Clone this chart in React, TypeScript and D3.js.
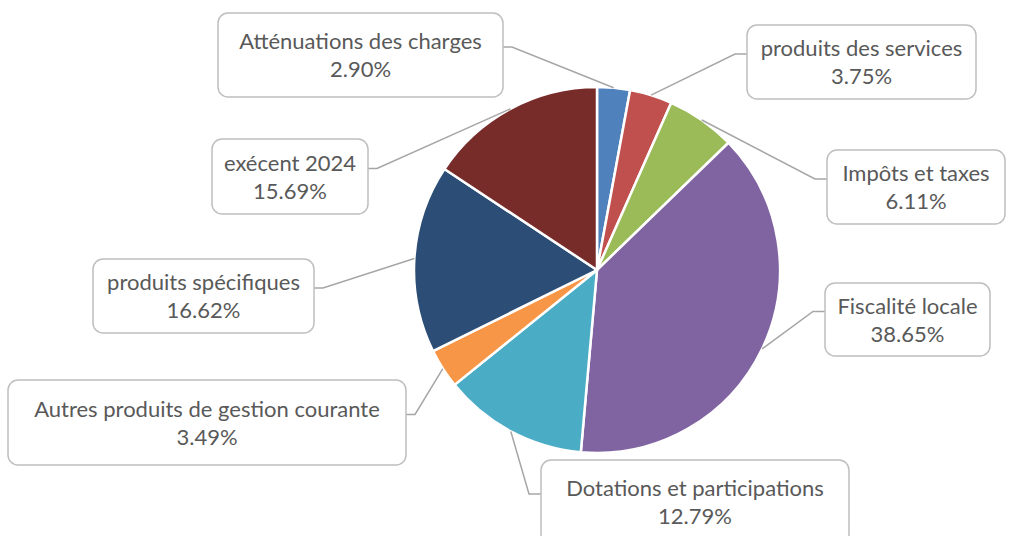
import React from 'react';
import * as d3 from 'd3';

// chart data
const categories = [
  'Atténuations des charges',
  'produits des services',
  'Impôts et taxes',
  'Fiscalité locale',
  'Dotations et participations',
  'Autres produits de gestion courante',
  'produits spécifiques',
  'exécent 2024',
];
const shares = [2.9, 3.75, 6.11, 38.65, 12.79, 3.49, 16.62, 15.69];
const colors = ['#4F81BD', '#C0504D', '#9BBB59', '#8064A2', '#4BACC6', '#F79646', '#2C4D75', '#772C2A'];

// label boxes (layout only): x, y, w, h, side the leader attaches to
const boxes = [
  { x: 218, y: 13, w: 285, h: 84, side: 'right' },
  { x: 747, y: 25, w: 229, h: 74, side: 'left' },
  { x: 827, y: 150, w: 178, h: 74, side: 'left' },
  { x: 825, y: 283, w: 165, h: 73, side: 'left' },
  { x: 541, y: 460, w: 308, h: 84, side: 'left' },
  { x: 8, y: 380, w: 398, h: 85, side: 'right' },
  { x: 93, y: 259, w: 221, h: 74, side: 'right' },
  { x: 212, y: 139, w: 156, h: 75, side: 'right' },
];

const width = 1016;
const height = 536;
const cx = 597;
const cy = 270;
const radius = 183;

export default function App() {
  const pie = d3.pie<number>().sort(null).value((d) => d);
  const arcs = pie(shares);
  const arc = d3.arc<d3.PieArcDatum<number>>().innerRadius(0).outerRadius(radius);
  const edge = d3.arc<d3.PieArcDatum<number>>().innerRadius(radius).outerRadius(radius);

  return (
    <svg width={width} height={height} style={{ position: 'absolute', left: 0, top: 0, background: '#fff' }}>
      <g transform={`translate(${cx},${cy})`}>
        {arcs.map((a, i) => (
          <path key={i} d={arc(a) || ''} fill={colors[i]} stroke="#fff" strokeWidth={2.5} strokeLinejoin="round" />
        ))}
      </g>
      {arcs.map((a, i) => {
        const b = boxes[i];
        const [ex, ey] = edge.centroid(a);
        const ay = b.y + b.h / 2 - 8;
        const bx = b.side === 'left' ? b.x - 12 : b.x + b.w + 9;
        const boxEdge = b.side === 'left' ? b.x : b.x + b.w;
        return (
          <polyline
            key={'l' + i}
            points={`${cx + ex},${cy + ey} ${bx},${ay} ${boxEdge},${ay}`}
            fill="none"
            stroke="#A6A6A6"
            strokeWidth={1.5}
          />
        );
      })}
      {boxes.map((b, i) => {
        const mid = b.y + b.h / 2;
        return (
          <g key={'b' + i}>
            <rect x={b.x} y={b.y} width={b.w} height={b.h} rx={10} ry={10} fill="#fff" stroke="#BFBFBF" strokeWidth={1.5} />
            <text
              x={b.x + b.w / 2}
              textAnchor="middle"
              fill="#595959"
              style={{ fontFamily: 'Lato, sans-serif', fontSize: '22px' }}
            >
              <tspan x={b.x + b.w / 2} y={mid - 6}>{categories[i]}</tspan>
              <tspan x={b.x + b.w / 2} y={mid + 22}>{shares[i].toFixed(2) + '%'}</tspan>
            </text>
          </g>
        );
      })}
    </svg>
  );
}
